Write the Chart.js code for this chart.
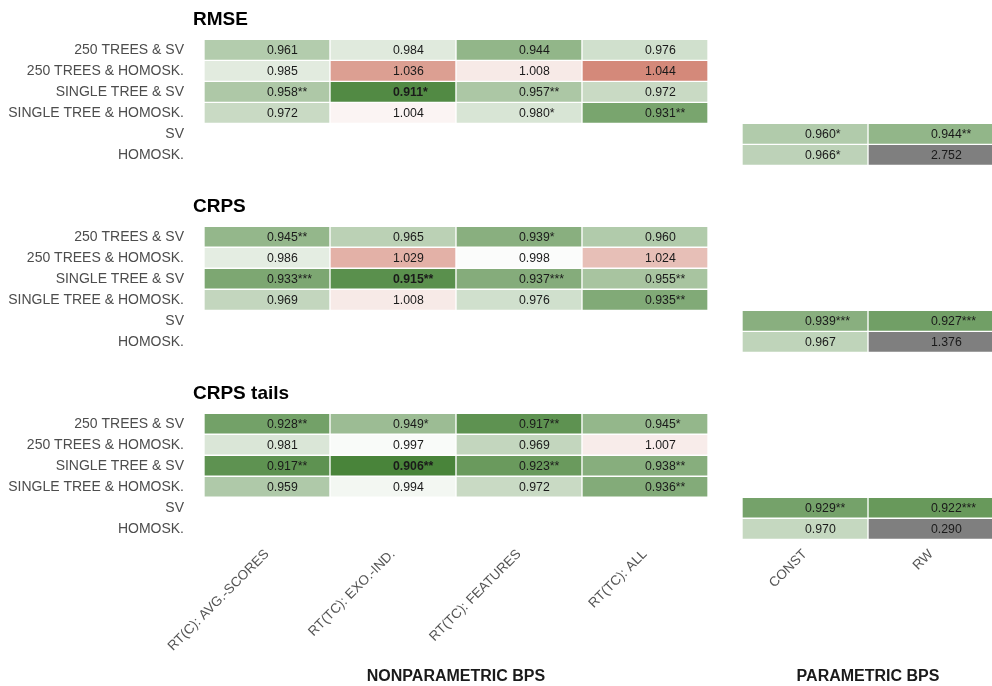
<!DOCTYPE html>
<html>
<head>
<meta charset="utf-8">
<script src="https://cdn.jsdelivr.net/npm/chart.js@4.4.0/dist/chart.umd.min.js"></script>
<style>
  html, body { margin: 0; padding: 0; background: #fff; }
  #wrap { width: 992px; height: 686px; }
</style>
</head>
<body>
<div id="wrap"><canvas id="myChart"></canvas></div>
<script>
// labels
const rowLabels = ['250 TREES & SV', '250 TREES & HOMOSK.', 'SINGLE TREE & SV', 'SINGLE TREE & HOMOSK.', 'SV', 'HOMOSK.'];
const nonparCols = ['RT(C): AVG.-SCORES', 'RT(TC): EXO.-IND.', 'RT(TC): FEATURES', 'RT(TC): ALL'];
const parCols = ['CONST', 'RW'];
const panelTitles = ['RMSE', 'CRPS', 'CRPS tails'];
const groupTitles = ['NONPARAMETRIC BPS', 'PARAMETRIC BPS'];

// RMSE
const rmseNonpar = [[0.961, 0.984, 0.944, 0.976], [0.985, 1.036, 1.008, 1.044], [0.958, 0.911, 0.957, 0.972], [0.972, 1.004, 0.980, 0.931]];
const rmseNonparStars = [['', '', '', ''], ['', '', '', ''], ['**', '*', '**', ''], ['', '', '*', '**']];
const rmsePar = [[0.960, 0.944], [0.966, 2.752]];
const rmseParStars = [['*', '**'], ['*', '']];

// CRPS
const crpsNonpar = [[0.945, 0.965, 0.939, 0.960], [0.986, 1.029, 0.998, 1.024], [0.933, 0.915, 0.937, 0.955], [0.969, 1.008, 0.976, 0.935]];
const crpsNonparStars = [['**', '', '*', ''], ['', '', '', ''], ['***', '**', '***', '**'], ['', '', '', '**']];
const crpsPar = [[0.939, 0.927], [0.967, 1.376]];
const crpsParStars = [['***', '***'], ['', '']];

// CRPS tails
const tailsNonpar = [[0.928, 0.949, 0.917, 0.945], [0.981, 0.997, 0.969, 1.007], [0.917, 0.906, 0.923, 0.938], [0.959, 0.994, 0.972, 0.936]];
const tailsNonparStars = [['**', '*', '**', '*'], ['', '', '', ''], ['**', '**', '**', '**'], ['', '', '', '**']];
const tailsPar = [[0.929, 0.922], [0.970, 0.290]];
const tailsParStars = [['**', '***'], ['', '']];

const FONT = '"Liberation Sans", Arial, sans-serif';
const PANEL_STEP = 8.9;   // rows between panel starts
const PAR_START = 4.27;   // x offset of parametric block

const panels = [
    {nonpar: rmseNonpar, nonparStars: rmseNonparStars, par: rmsePar, parStars: rmseParStars},
    {nonpar: crpsNonpar, nonparStars: crpsNonparStars, par: crpsPar, parStars: crpsParStars},
    {nonpar: tailsNonpar, nonparStars: tailsNonparStars, par: tailsPar, parStars: tailsParStars}
];

function isOut(v) {
    return v > 1.2 || v < 0.8;
}

function cellColor(v) {
    if (isOut(v)) return '#7f7f7f';
    let t;
    if (v <= 1) {
        t = Math.min(1, (1 - v) / 0.1);
        return `rgb(${Math.round(255 - t * 194)}, ${Math.round(255 - t * 131)}, ${Math.round(255 - t * 210)})`;
    }
    t = Math.min(1, (v - 1) / 0.05);
    return `rgb(${Math.round(255 - t * 49)}, ${Math.round(255 - t * 134)}, ${Math.round(255 - t * 151)})`;
}

// build the cells
const cells = [];
panels.forEach((p, pi) => {
    const start = cells.length;
    p.nonpar.forEach((row, ri) => {
        row.forEach((v, ci) => {
            cells.push({x: [ci, ci + 1], y: pi * PANEL_STEP + ri, v: v, s: p.nonparStars[ri][ci]});
        });
    });
    p.par.forEach((row, ri) => {
        row.forEach((v, ci) => {
            cells.push({x: [PAR_START + ci, PAR_START + ci + 1], y: pi * PANEL_STEP + 4 + ri, v: v, s: p.parStars[ri][ci]});
        });
    });
    // best value of the panel in bold
    const own = cells.slice(start).filter(c => !isOut(c.v));
    const best = Math.min(...own.map(c => c.v));
    own.forEach(c => { c.bold = c.v === best; });
});

const yTicks = [];
const yTickText = [];
panels.forEach((p, pi) => {
    rowLabels.forEach((l, ri) => {
        yTicks.push(pi * PANEL_STEP + ri);
        yTickText.push(l);
    });
});

const colLabels = nonparCols.concat(parCols);
const colCenters = nonparCols.map((c, i) => i + 0.5).concat(parCols.map((c, i) => PAR_START + i + 0.5));

const cellText = {
    id: 'cellText',
    afterDatasetsDraw(chart) {
        const ctx = chart.ctx;
        const meta = chart.getDatasetMeta(0);
        const yScale = chart.scales.y;
        const xScale = chart.scales.x;
        ctx.save();
        ctx.textAlign = 'left';
        ctx.textBaseline = 'middle';
        ctx.fillStyle = '#1a1a1a';
        meta.data.forEach((bar, i) => {
            const c = cells[i];
            ctx.font = (c.bold ? 'bold ' : '') + '12.3px ' + FONT;
            ctx.fillText(c.v.toFixed(3) + c.s, (bar.x + bar.base) / 2, bar.y + 0.5);
        });

        // panel titles
        ctx.fillStyle = '#000';
        ctx.font = 'bold 19px ' + FONT;
        panelTitles.forEach((t, pi) => {
            ctx.fillText(t, chart.chartArea.left - 11, yScale.getPixelForValue(pi * PANEL_STEP - 1.45));
        });

        // group titles
        ctx.textAlign = 'center';
        ctx.fillStyle = '#1a1a1a';
        ctx.font = 'bold 16px ' + FONT;
        ctx.fillText(groupTitles[0], xScale.getPixelForValue(nonparCols.length / 2), chart.height - 9);
        ctx.fillText(groupTitles[1], xScale.getPixelForValue(PAR_START + parCols.length / 2), chart.height - 9);
        ctx.restore();
    }
};

const config = {
    type: 'bar',
    data: {
        datasets: [{
            data: cells,
            backgroundColor: cells.map(c => cellColor(c.v)),
            borderColor: '#ffffff',
            borderWidth: 1,
            borderSkipped: false,
            grouped: false,
            categoryPercentage: 1,
            barPercentage: 1
        }]
    },
    options: {
        indexAxis: 'y',
        responsive: true,
        maintainAspectRatio: false,
        animation: false,
        events: [],
        layout: {padding: 0},
        plugins: {
            legend: {display: false},
            tooltip: {enabled: false}
        },
        scales: {
            x: {
                type: 'linear',
                position: 'bottom',
                min: 0,
                max: 6.254,
                offset: false,
                grid: {display: false, drawTicks: false},
                border: {display: false},
                ticks: {
                    autoSkip: false,
                    minRotation: 45,
                    maxRotation: 45,
                    padding: 7,
                    color: '#555',
                    font: {family: FONT, size: 13.5},
                    callback: (v, i) => colLabels[i]
                },
                afterBuildTicks: s => { s.ticks = colCenters.map(v => ({value: v})); },
                afterFit: s => { s.height = 146.7; s.paddingLeft = 0; s.paddingRight = 0; }
            },
            y: {
                type: 'linear',
                reverse: true,
                offset: false,
                min: -2.37,
                max: 2 * PANEL_STEP + 5.5,
                grid: {display: false, drawTicks: false},
                border: {display: false},
                ticks: {
                    autoSkip: false,
                    padding: 20,
                    color: '#4d4d4d',
                    font: {family: FONT, size: 14},
                    callback: (v, i) => yTickText[i]
                },
                afterBuildTicks: s => { s.ticks = yTicks.map(v => ({value: v})); },
                afterFit: s => { s.width = 204; s.paddingTop = 0; s.paddingBottom = 0; }
            }
        }
    },
    plugins: [cellText]
};

const myChart = new Chart(document.getElementById('myChart'), config);
</script>
</body>
</html>
